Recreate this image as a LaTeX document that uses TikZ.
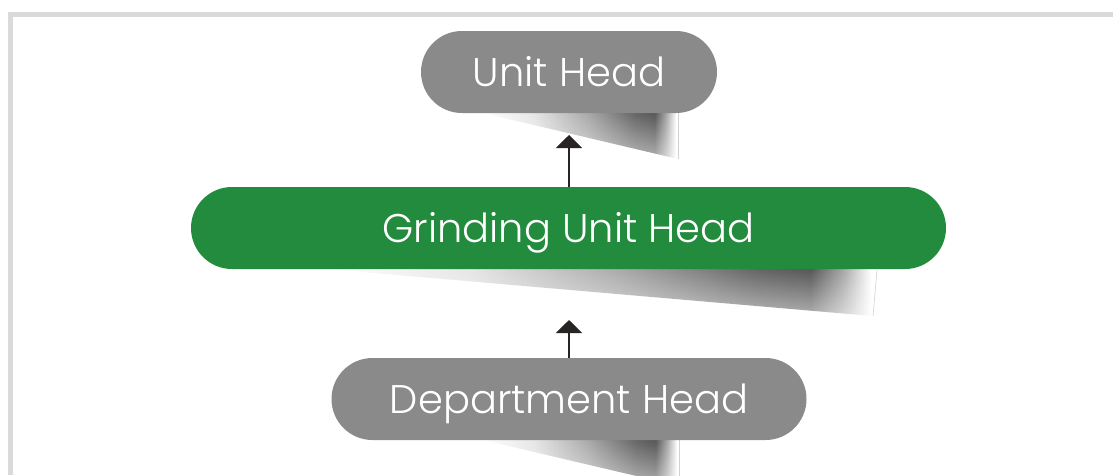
\documentclass[tikz,border=0pt]{standalone}
\usepackage{fontspec}
\setmainfont{Poppins}[UprightFont={* Light}]
\usetikzlibrary{shapes.misc,arrows.meta,fadings}
\definecolor{pillgray}{RGB}{137,138,137}
\definecolor{pillgreen}{RGB}{34,139,62}
\definecolor{framegray}{RGB}{218,218,218}
\definecolor{arrowdark}{RGB}{40,36,36}
\pgfdeclarehorizontalshading{curlshade}{100bp}{color(0bp)=(white); color(25bp)=(white); color(38bp)=(black!10); color(52bp)=(black!35); color(64bp)=(black!62); color(69bp)=(black!68); color(72bp)=(black!35); color(74.5bp)=(white); color(100bp)=(white)}
\tikzfading[name=curlfade, top color=transparent!0, bottom color=transparent!55]
\begin{document}
\begin{tikzpicture}[x=1pt,y=-1pt,
  pill/.style={rounded rectangle, minimum height=82pt, inner sep=0pt, text=white,
    text height=28pt, text depth=0pt,
    font=\fontsize{40}{48}\selectfont},
  graypill/.style={pill, fill=pillgray},
  greenpill/.style={pill, fill=pillgreen},
  curl/.style={shading=curlshade, path fading=curlfade},
  curledge/.style={draw=black!18, line width=0.6pt},
  link/.style={draw=arrowdark, line width=1.1pt, -{Triangle[width=26pt,length=13pt]}}]
\useasboundingbox (0,0) rectangle (1113,475);
\fill[white] (0,0) rectangle (1113,475);
% frame
\fill[framegray] (8,12) rectangle (1113,16.5);
\fill[framegray] (8,12) rectangle (12.8,475);
% curl shadows
\begin{scope}
\clip (0,0) rectangle (1113,475);
\path[curl] (483,110) -- (678,110) -- (678,159) -- (483,113) -- cycle;
\draw[curledge] (678,113) -- (678,159);
\path[curl] (327,266) -- (877,266) -- (873,316) -- (327,269) -- cycle;
\draw[curledge] (877,270) -- (873,316);
\path[curl] (483,437) -- (679,437) -- (679,486) -- (483,440) -- cycle;
\draw[curledge] (679,440) -- (679,486);
\end{scope}
% nodes
\node[graypill, minimum width=296pt] (unit) at (569,72) {Unit Head};
\node[greenpill, minimum width=755pt] (grind) at (568.5,228) {Grinding Unit Head};
\node[graypill, minimum width=475pt] (dept) at (569,399) {Department Head};
% connectors
\coordinate (tipA) at (569,135);
\coordinate (tipB) at (569,320);
\draw[link] (grind.north -| tipA) -- (tipA);
\draw[link] (dept.north -| tipB) -- (tipB);
\end{tikzpicture}
\end{document}
